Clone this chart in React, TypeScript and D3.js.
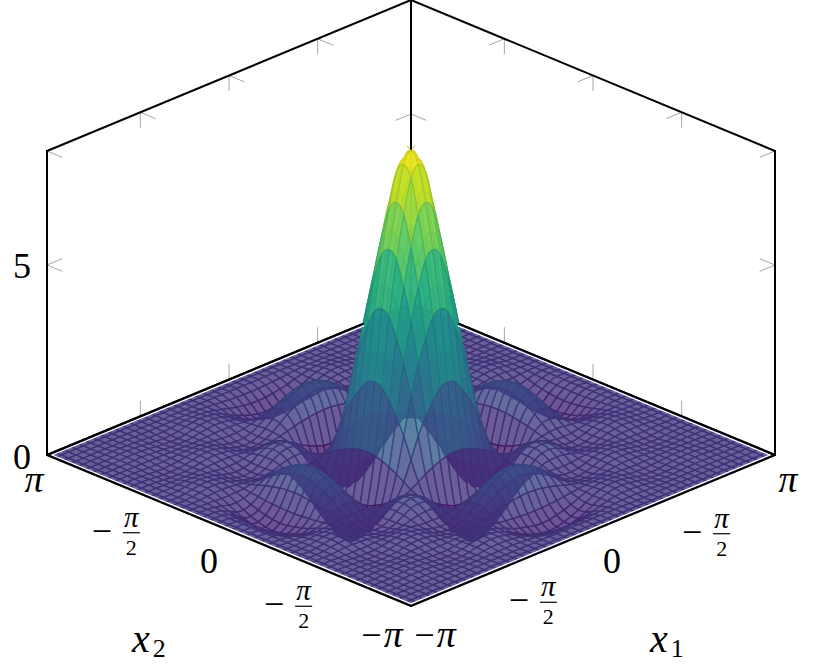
import React from "react";
import * as d3 from "d3";

const W = 813, H = 671;
const PI = Math.PI;

// half-profile of the surface along one axis (x = 0 .. pi, 26 samples)
const profileHalf = [
  1.0, 0.965, 0.85, 0.705, 0.52, 0.29, 0.07, -0.09, -0.17, -0.19, -0.15, -0.07, 0.03,
  0.085, 0.1, 0.08, 0.035, -0.015, -0.045, -0.06, -0.055, -0.03, -0.01, 0.0, 0.0, 0.0,
];
const peakValue = 8;
const domainTicks = [-PI, -1.53, 0, 1.53, PI];
const zTicks = [0, 5];
const zTickLabels = ["0", "5"];
const x2Labels = ["−π", "-frac", "0", "-frac", "π"];
const x1Labels = ["−π", "-frac", "0", "-frac", "π"];
// label centres relative to the projected tick on the front edges [dx, dy]
const x2Offsets = [[-28, 34], [-30, 39], [-20, 30], [-25, 39], [-13, 28]];
const x1Offsets = [[25, 34], [28, 35], [19, 30], [24, 40], [13, 28]];

const profile = [...profileHalf.slice(1).reverse(), ...profileHalf];
const n = profile.length;
const axisValues = d3.range(n).map((i) => -PI + (i * 2 * PI) / (n - 1));

const sxScale = d3.scaleLinear().domain([-2 * PI, 2 * PI]).range([47, 775]);
const syScale = d3.scaleLinear().domain([-2 * PI, 2 * PI]).range([606, 304]);
const zScale = d3.scaleLinear().domain([0, 8]).range([0, -304]);
type Pt = [number, number];
const project = (x1: number, x2: number, z = 0): Pt => [
  sxScale(x1 - x2),
  syScale(x1 + x2) + zScale(z),
];

const zAt = (i: number, j: number) => peakValue * profile[i] * profile[j];
const zMin = peakValue * d3.min(profile)!;
const colorScale = d3.scaleSequential(d3.interpolateViridis).domain([zMin, peakValue]);

const clampIdx = (k: number) => Math.max(0, Math.min(n - 1, k));
const node = (i: number, j: number): Pt =>
  project(axisValues[clampIdx(i)], axisValues[clampIdx(j)], zAt(clampIdx(i), clampIdx(j)));
// a curved patch edge (Catmull-Rom through the neighbouring grid nodes)
const edge = (p0: Pt, p1: Pt, p2: Pt, p3: Pt) => {
  const c1: Pt = [p1[0] + (p2[0] - p0[0]) / 6, p1[1] + (p2[1] - p0[1]) / 6];
  const c2: Pt = [p2[0] - (p3[0] - p1[0]) / 6, p2[1] - (p3[1] - p1[1]) / 6];
  return `C${c1[0]},${c1[1]} ${c2[0]},${c2[1]} ${p2[0]},${p2[1]}`;
};

type Cell = { i: number; j: number; d: string; c: string; s: string };
const cells: Cell[] = [];
for (let i = 0; i < n - 1; i++) {
  for (let j = 0; j < n - 1; j++) {
    const a = node(i, j);
    const d =
      `M${a[0]},${a[1]}` +
      edge(node(i - 1, j), a, node(i + 1, j), node(i + 2, j)) +
      edge(node(i + 1, j - 1), node(i + 1, j), node(i + 1, j + 1), node(i + 1, j + 2)) +
      edge(node(i + 2, j + 1), node(i + 1, j + 1), node(i, j + 1), node(i - 1, j + 1)) +
      edge(node(i, j + 2), node(i, j + 1), a, node(i, j - 1)) +
      "Z";
    const mean = (zAt(i, j) + zAt(i + 1, j) + zAt(i, j + 1) + zAt(i + 1, j + 1)) / 4;
    const c = colorScale(mean) as string;
    cells.push({ i, j, d, c, s: d3.color(c)!.darker(0.3).formatRgb() });
  }
}
cells.sort((a, b) => b.i + b.j - (a.i + a.j) || b.i - a.i);

const FONT = "'Liberation Serif', serif";
const tickColor = "#a6a6a6";
const lerp = (a: Pt, b: Pt, t: number): Pt => [a[0] + (b[0] - a[0]) * t, a[1] + (b[1] - a[1]) * t];

function L({ a, b, c = "#000", w = 2 }: { a: Pt; b: Pt; c?: string; w?: number }) {
  return <line x1={a[0]} y1={a[1]} x2={b[0]} y2={b[1]} stroke={c} strokeWidth={w} strokeLinecap="round" />;
}

function MinusPi({ cx, y }: { cx: number; y: number }) {
  return (
    <text x={cx} y={y} textAnchor="middle" fontFamily={FONT} fontSize={36} letterSpacing={2}>
      −<tspan fontStyle="italic" fontSize={38}>π</tspan>
    </text>
  );
}

function Frac({ cx, bar }: { cx: number; bar: number }) {
  return (
    <g fontFamily={FONT}>
      <text x={cx - 13.5} y={bar + 10} textAnchor="middle" fontSize={36}>−</text>
      <text x={cx + 16} y={bar - 6} textAnchor="middle" fontSize={29} fontStyle="italic">π</text>
      <line x1={cx + 7.5} x2={cx + 24.5} y1={bar} y2={bar} stroke="#000" strokeWidth={1.2} />
      <text x={cx + 16} y={bar + 22} textAnchor="middle" fontSize={22}>2</text>
    </g>
  );
}

function TickLabel({ label, cx, cy }: { label: string; cx: number; cy: number }) {
  if (label === "-frac") return <Frac cx={cx} bar={cy} />;
  if (label === "−π") return <MinusPi cx={cx} y={cy + 7} />;
  if (label === "π")
    return (
      <text x={cx} y={cy + 9} textAnchor="middle" fontFamily={FONT} fontSize={38} fontStyle="italic">π</text>
    );
  return <text x={cx} y={cy + 12} textAnchor="middle" fontFamily={FONT} fontSize={36}>{label}</text>;
}

export default function App() {
  const left = project(-PI, PI);
  const front = project(-PI, -PI);
  const right = project(PI, -PI);
  const back = project(PI, PI);
  const top = (p: Pt): Pt => [p[0], p[1] + zScale(8)];
  const tl = 15;
  const diag: Pt = [15, 6.2];
  const summit = project(0, 0, 8);
  const rimL: Pt = [left[0] + 5, left[1]];
  const rimR: Pt = [right[0] - 5, right[1]];
  const rimB: Pt = [back[0], back[1] + 2.2];
  const rimF: Pt = [front[0], front[1] - 2.2];
  const stop = 0.868; // where the back edges disappear behind the peak

  return (
    <svg width={W} height={H} style={{ position: "absolute", left: 0, top: 0, background: "#fff" }}>
      {/* wall ticks */}
      <g>
        {domainTicks.map((t, k) => {
          const pa = top(project(t, PI));
          const pb = top(project(PI, t));
          const fa = project(t, PI);
          const fb = project(PI, t);
          return (
            <g key={k}>
              <L a={pa} b={[pa[0], pa[1] + tl]} c={tickColor} w={1} />
              <L a={pa} b={[pa[0] + diag[0], pa[1] + diag[1]]} c={tickColor} w={1} />
              <L a={pb} b={[pb[0], pb[1] + tl]} c={tickColor} w={1} />
              <L a={pb} b={[pb[0] - diag[0], pb[1] + diag[1]]} c={tickColor} w={1} />
              <L a={fa} b={[fa[0], fa[1] - tl]} c={tickColor} w={1} />
              <L a={fb} b={[fb[0], fb[1] - tl]} c={tickColor} w={1} />
            </g>
          );
        })}
        {zTicks.map((z) =>
          [left, back, right].map((p, k) => {
            const q: Pt = [p[0], p[1] + zScale(z)];
            const dirs: Pt[] =
              k === 0
                ? [[15, -6.2], [15, 6.2]]
                : k === 2
                ? [[-15, -6.2], [-15, 6.2]]
                : [[-15, 6.2], [15, 6.2]];
            return (
              <g key={`${z}-${k}`}>
                {dirs.map((d, m) => (
                  <L key={m} a={q} b={[q[0] + d[0], q[1] + d[1]]} c={tickColor} w={1} />
                ))}
              </g>
            );
          })
        )}
      </g>

      {/* box lines behind the surface */}
      <L a={back} b={top(back)} />
      <L a={left} b={top(left)} />
      <L a={right} b={top(right)} />
      <L a={top(left)} b={top(back)} />
      <L a={top(back)} b={top(right)} />
      <L a={left} b={back} />
      <L a={back} b={right} />

      {/* surface */}
      <g strokeWidth={1.35} strokeLinejoin="round" fillOpacity={0.8} strokeOpacity={0.85}>
        {cells.map((c) => (
          <path key={`${c.i}-${c.j}`} d={c.d} fill={c.c} stroke={c.s} />
        ))}
      </g>

      {/* white rim and black lines of the floor edges */}
      <g>
        <L a={rimL} b={rimF} c="#fff" w={1.3} />
        <L a={rimF} b={rimR} c="#fff" w={1.3} />
        <L a={rimL} b={lerp(rimL, rimB, stop)} c="#fff" w={1.3} />
        <L a={rimR} b={lerp(rimR, rimB, stop)} c="#fff" w={1.3} />
        <L a={left} b={front} />
        <L a={front} b={right} />
        <L a={left} b={lerp(left, back, stop)} />
        <L a={right} b={lerp(right, back, stop)} />
      </g>

      {/* little mark at the summit */}
      <L a={summit} b={[summit[0] - 3.7, summit[1] - 5]} c="#c9bd3a" w={1} />
      <L a={summit} b={[summit[0] + 3.7, summit[1] - 5]} c="#c9bd3a" w={1} />

      {/* tick labels */}
      {zTicks.map((z, k) => (
        <text key={z} x={22} y={left[1] + zScale(z) + (k === 0 ? 13.5 : 13)} textAnchor="middle" fontFamily={FONT} fontSize={36}>
          {zTickLabels[k]}
        </text>
      ))}
      {domainTicks.map((t, k) => {
        const p = project(-PI, t);
        const o = x2Offsets[k];
        return <TickLabel key={`a${k}`} label={x2Labels[k]} cx={p[0] + o[0]} cy={p[1] + o[1]} />;
      })}
      {domainTicks.map((t, k) => {
        const p = project(t, -PI);
        const o = x1Offsets[k];
        return <TickLabel key={`b${k}`} label={x1Labels[k]} cx={p[0] + o[0]} cy={p[1] + o[1]} />;
      })}

      {/* axis labels */}
      <text x={132} y={652} fontFamily={FONT} fontSize={40} fontStyle="italic">
        x<tspan fontStyle="normal" fontSize={26} dy={5} dx={3}>2</tspan>
      </text>
      <text x={650} y={652} fontFamily={FONT} fontSize={40} fontStyle="italic">
        x<tspan fontStyle="normal" fontSize={26} dy={5} dx={3}>1</tspan>
      </text>
    </svg>
  );
}
